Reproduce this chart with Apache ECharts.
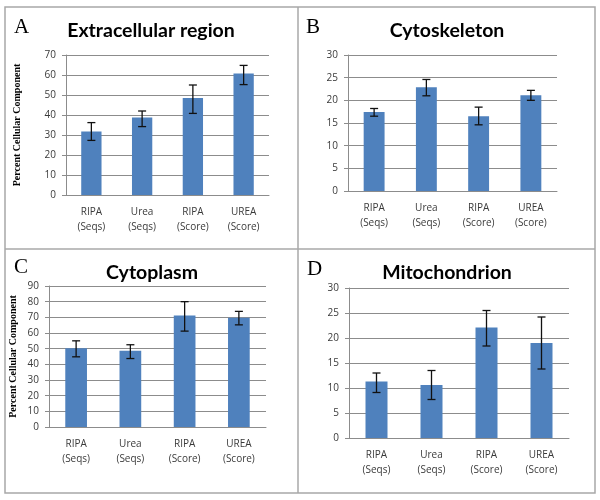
<!DOCTYPE html>
<html>
<head>
<meta charset="utf-8">
<script src="https://cdn.jsdelivr.net/npm/echarts@6/dist/echarts.min.js"></script>
<style>
html,body{margin:0;padding:0;background:#fff;}
#chart{width:600px;height:500px;}
</style>
</head>
<body>
<div id="chart"></div>
<script>
// ---- data ----
var categories = ['RIPA\n(Seqs)', 'Urea\n(Seqs)', 'RIPA\n(Score)', 'UREA\n(Score)'];

var extracellularValues = [31.8, 38.7, 48.5, 60.7];
var extracellularLow    = [27.3, 34.2, 40.8, 55.2];
var extracellularHigh   = [36.2, 42.0, 55.0, 64.8];

var cytoskeletonValues = [17.4, 22.9, 16.5, 21.1];
var cytoskeletonLow    = [16.5, 21.0, 14.6, 20.0];
var cytoskeletonHigh   = [18.2, 24.6, 18.5, 22.2];

var cytoplasmValues = [50.3, 48.6, 71.2, 69.7];
var cytoplasmLow    = [44.8, 43.7, 61.2, 65.2];
var cytoplasmHigh   = [55.0, 52.5, 80.0, 73.8];

var mitochondrionValues = [11.3, 10.6, 22.1, 19.0];
var mitochondrionLow    = [9.1, 7.7, 18.4, 13.8];
var mitochondrionHigh   = [13.0, 13.5, 25.5, 24.2];

var panelTitles = ['Extracellular region', 'Cytoskeleton', 'Cytoplasm', 'Mitochondrion'];
var panelLetters = ['A', 'B', 'C', 'D'];
var yMax = [70, 30, 90, 30];
var yInterval = [10, 5, 10, 5];
var yAxisName = 'Percent Cellular Component';

// ---- layout / style ----
var grids = [
  {left: 66, top: 55, width: 203, height: 140},
  {left: 348, top: 55, width: 209, height: 136},
  {left: 49, top: 286, width: 217, height: 141},
  {left: 349, top: 288, width: 220, height: 150}
];
var titlePos = [[151, 31], [447, 31], [152, 273], [447, 273]];
var letterPos = [[14, 27], [306, 27], [14, 267], [307, 269]];
var nameGaps = [44, null, 31, null];

var values = [extracellularValues, cytoskeletonValues, cytoplasmValues, mitochondrionValues];
var lows = [extracellularLow, cytoskeletonLow, cytoplasmLow, mitochondrionLow];
var highs = [extracellularHigh, cytoskeletonHigh, cytoplasmHigh, mitochondrionHigh];

var BAR = '#4F81BD';
var GRIDLINE = '#8c8c8c';
var TXT = '#3a3a3a';

var chart = echarts.init(document.getElementById('chart'), null, {renderer: 'canvas'});

var xAxes = [], yAxes = [], series = [], graphics = [];

grids.forEach(function (g, i) {
  xAxes.push({
    type: 'category', gridIndex: i, data: categories,
    axisLine: {lineStyle: {color: GRIDLINE, width: 1}},
    axisTick: {show: false},
    axisLabel: {color: TXT, fontSize: 10, fontFamily: 'Open Sans', lineHeight: 15, margin: 10, interval: 0}
  });
  var ya = {
    type: 'value', gridIndex: i, min: 0, max: yMax[i], interval: yInterval[i],
    axisLine: {show: true, lineStyle: {color: GRIDLINE, width: 1}},
    axisTick: {show: true, length: 4, lineStyle: {color: GRIDLINE}},
    axisLabel: {color: TXT, fontSize: 10, fontFamily: 'Open Sans', margin: 10},
    splitLine: {show: true, lineStyle: {color: GRIDLINE, width: 1}}
  };
  if (nameGaps[i] !== null) {
    ya.name = yAxisName;
    ya.nameLocation = 'middle';
    ya.nameGap = nameGaps[i];
    ya.nameTextStyle = {fontFamily: 'Liberation Serif', fontWeight: 'bold', fontSize: 10, color: '#000'};
  }
  yAxes.push(ya);

  series.push({
    type: 'bar', xAxisIndex: i, yAxisIndex: i,
    data: values[i], barWidth: '40%',
    itemStyle: {color: BAR},
    silent: true
  });

  var errData = categories.map(function (c, k) { return [k, lows[i][k], highs[i][k]]; });
  series.push({
    type: 'custom', xAxisIndex: i, yAxisIndex: i,
    data: errData, z: 10,
    renderItem: function (params, api) {
      var x = api.value(0);
      var lo = api.coord([x, api.value(1)]);
      var hi = api.coord([x, api.value(2)]);
      var cap = 4;
      var st = {stroke: '#111', lineWidth: 1.3};
      return {
        type: 'group',
        children: [
          {type: 'line', shape: {x1: lo[0], y1: lo[1], x2: hi[0], y2: hi[1]}, style: st},
          {type: 'line', shape: {x1: lo[0] - cap, y1: lo[1], x2: lo[0] + cap, y2: lo[1]}, style: st},
          {type: 'line', shape: {x1: hi[0] - cap, y1: hi[1], x2: hi[0] + cap, y2: hi[1]}, style: st}
        ]
      };
    }
  });

  graphics.push({
    type: 'text', x: titlePos[i][0], y: titlePos[i][1],
    style: {text: panelTitles[i], font: 'bold 19.5px Lato', fill: '#000', textAlign: 'center', textVerticalAlign: 'middle'}
  });
  graphics.push({
    type: 'text', x: letterPos[i][0], y: letterPos[i][1],
    style: {text: panelLetters[i], font: '21px "Liberation Serif"', fill: '#000', textAlign: 'left', textVerticalAlign: 'middle'}
  });
});

// panel borders
var BORDER = '#a8a8a8';
graphics.push({type: 'rect', shape: {x: 5, y: 7, width: 590, height: 486}, style: {fill: null, stroke: BORDER, lineWidth: 1.5}, z: 100});
graphics.push({type: 'line', shape: {x1: 298, y1: 7, x2: 298, y2: 493}, style: {stroke: BORDER, lineWidth: 1.5}, z: 100});
graphics.push({type: 'line', shape: {x1: 5, y1: 249, x2: 595, y2: 249}, style: {stroke: BORDER, lineWidth: 1.5}, z: 100});

chart.setOption({
  animation: false,
  backgroundColor: '#fff',
  grid: grids.map(function (g) { return Object.assign({containLabel: false}, g); }),
  xAxis: xAxes,
  yAxis: yAxes,
  series: series,
  graphic: graphics
});
</script>
</body>
</html>
